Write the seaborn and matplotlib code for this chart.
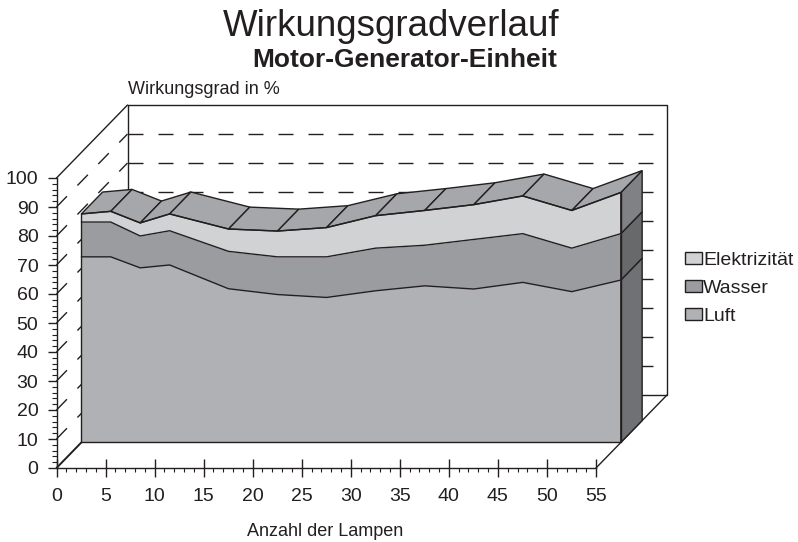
import numpy as np
import pandas as pd
import matplotlib
matplotlib.use('Agg')
import matplotlib.pyplot as plt
import seaborn as sns
from matplotlib.patches import Patch

# Werte
lampen = [0, 3, 6, 9, 15, 20, 25, 30, 35, 40, 45, 50, 55]
luft = [64, 64, 60.2, 61.2, 53, 51, 50, 52.3, 54, 52.9, 55.2, 52, 56]
wasser = [12, 12, 11, 11.8, 12.9, 13, 14, 14.7, 14, 17.1, 16.8, 15, 16]
elektrizitaet = [2.8, 3.7, 4.5, 5.8, 7.7, 8.9, 10.1, 11.2, 12, 12, 13, 13, 14.2]
namen = ['Luft', 'Wasser', 'Elektrizität']

x_ticks = [0, 5, 10, 15, 20, 25, 30, 35, 40, 45, 50, 55]
y_ticks = [0, 10, 20, 30, 40, 50, 60, 70, 80, 90, 100]

sns.set_theme(style='ticks')
plt.rcParams['font.family'] = ['Liberation Sans', 'DejaVu Sans']

W, H = 798, 542
LINE = '#231f20'
FRONT = ['#b0b1b4', '#9b9c9f', '#d1d2d4']
SIDE = ['#707174', '#68696b', '#808184']
TOP = '#a6a7aa'

fig = plt.figure(figsize=(W / 100, H / 100), dpi=100)
ax = fig.add_axes([0, 0, 1, 1])

# Skalen: 0..55 liegt auf 56.5..596 px, 0..100 auf 468..178 px
px_x = (596 - 56.5) / 55
px_y = (468 - 178) / 100
ax.set_xlim(-56.5 / px_x, (W - 56.5) / px_x)
ax.set_ylim(-(H - 468) / px_y, 468 / px_y)
ax.patch.set_visible(False)

# Schraegprojektion fuer die Tiefe (0 = vorne, 1 = Rueckwand)
dx = 71 / px_x
dy = 73 / px_y


def proj(x, y, d):
    return np.asarray(x, dtype=float) + d * dx, np.asarray(y, dtype=float) + d * dy


dash = (0, (10.8, 10.8))
wall = dict(color=LINE, lw=1, zorder=1)

# Rueckwand und linke Wand
bx, by = proj([0, 55, 55, 0, 0], [100, 100, 0, 0, 100], 1)
ax.plot(bx, by, **wall)
for a, b in [((0, 100), (0, 100)), ((55, 0), (55, 0))]:
    lx, ly = proj([a[0], b[0]], [a[1], b[1]], 0)
    ex, ey = proj([a[0], b[0]], [a[1], b[1]], 1)
    ax.plot([lx[0], ex[0]], [ly[0], ey[0]], **wall)
for v in y_ticks[1:-1]:
    gx, gy = proj([0, 55], [v, v], 1)
    ax.plot(gx, gy, color=LINE, lw=1, ls=dash, zorder=1)
    sx, sy = proj([0, 0], [v, v], 0)
    ex, ey = proj([0, 0], [v, v], 1)
    ax.plot([sx[0], ex[0]], [sy[0], ey[0]], color=LINE, lw=1, ls=dash, zorder=1)

# Gestapelte Flaechen
stapel = np.cumsum([luft, wasser, elektrizitaet], axis=0)
D0, D1 = 0.35, 0.65
unten = np.zeros(len(lampen))
zeilen = []
for i, name in enumerate(namen):
    oben = stapel[i]
    fx, fo = proj(lampen, oben, D0)
    _, fu = proj(lampen, unten, D0)
    ax.fill_between(fx, fu, fo, color=FRONT[i], lw=0, zorder=2)
    # rechte Seite
    sx = [proj(55, unten[-1], D0)[0], proj(55, unten[-1], D1)[0], proj(55, oben[-1], D1)[0], proj(55, oben[-1], D0)[0]]
    sy = [proj(55, unten[-1], D0)[1], proj(55, unten[-1], D1)[1], proj(55, oben[-1], D1)[1], proj(55, oben[-1], D0)[1]]
    ax.fill(sx, sy, facecolor=SIDE[i], edgecolor=LINE, lw=1, zorder=2)
    zeilen.append(pd.DataFrame({'x': fx, 'y': fo, 'serie': name}))
    unten = oben

# Oberseite, Streifen fuer Streifen
oben = stapel[-1]
for k in range(len(lampen) - 1):
    qx = [lampen[k], lampen[k + 1], lampen[k + 1], lampen[k]]
    qy = [oben[k], oben[k + 1], oben[k + 1], oben[k]]
    qd = [D0, D0, D1, D1]
    px, py = proj(qx, qy, np.array(qd))
    ax.fill(px, py, facecolor=TOP, edgecolor=LINE, lw=1, zorder=3)

# Kanten vorne
kanten = pd.concat(zeilen, ignore_index=True)
sns.lineplot(data=kanten, x='x', y='y', units='serie', estimator=None, sort=False,
             color=LINE, lw=1, legend=False, ax=ax, zorder=4)
ex, ey = proj([0, 0, 55, 55], [stapel[-1][0], 0, 0, stapel[-1][-1]], D0)
ax.plot(ex, ey, color=LINE, lw=1, zorder=4)
bx, by = proj([0, 0], [0, 0], 0)
ex, ey = proj([0, 0], [0, 0], D0)
ax.plot([bx[0], ex[0]], [by[0], ey[0]], color=LINE, lw=1.4, zorder=4)

# Achsen
sns.despine(ax=ax)
ax.spines['left'].set_position(('data', 0))
ax.spines['bottom'].set_position(('data', 0))
ax.spines['left'].set_bounds(0, 100)
ax.spines['bottom'].set_bounds(0, 55)
for s in ['left', 'bottom']:
    ax.spines[s].set_color(LINE)
    ax.spines[s].set_linewidth(1)
ax.set_xticks(x_ticks)
ax.set_yticks(y_ticks)
ax.set_xticks(list(range(0, 56)), minor=True)
ax.set_yticks(list(range(0, 101, 2)), minor=True)
ax.tick_params(axis='x', which='major', direction='inout', length=13.5, width=1, color=LINE,
               labelsize=14, labelcolor=LINE, pad=7.5)
ax.tick_params(axis='x', which='minor', direction='out', length=3, width=0.8, color=LINE)
ax.tick_params(axis='y', which='major', direction='out', length=6.5, width=1, color=LINE,
               labelsize=14, labelcolor=LINE, pad=6.5)
ax.tick_params(axis='y', which='minor', direction='out', length=3.5, width=0.8, color=LINE)
ax.set_xlabel('')
ax.set_ylabel('')


def tx(x, y, s, **kw):
    fig.text(x / W, 1 - y / H, s, color=LINE, **kw)


tx(391, 36, 'Wirkungsgradverlauf', fontsize=26.4, ha='center', va='baseline')
tx(404.5, 66.7, 'Motor-Generator-Einheit', fontsize=19, fontweight='bold', ha='center', va='baseline')
tx(128, 90, 'Wirkungsgrad in %', fontsize=13, ha='left', va='center')
tx(325.5, 531, 'Anzahl der Lampen', fontsize=13, ha='center', va='center')

handles = [Patch(facecolor=FRONT[i], edgecolor=LINE, lw=1, label=namen[i]) for i in [2, 1, 0]]
ax.legend(handles=handles, loc='upper left', bbox_to_anchor=(684.5 / W, 1 - 251.5 / H), frameon=False,
          fontsize=14, labelcolor=LINE, handlelength=0.88, handleheight=0.62, handletextpad=0.07,
          labelspacing=0.56, borderpad=0, borderaxespad=0)

fig.savefig('out.png', dpi=100)
